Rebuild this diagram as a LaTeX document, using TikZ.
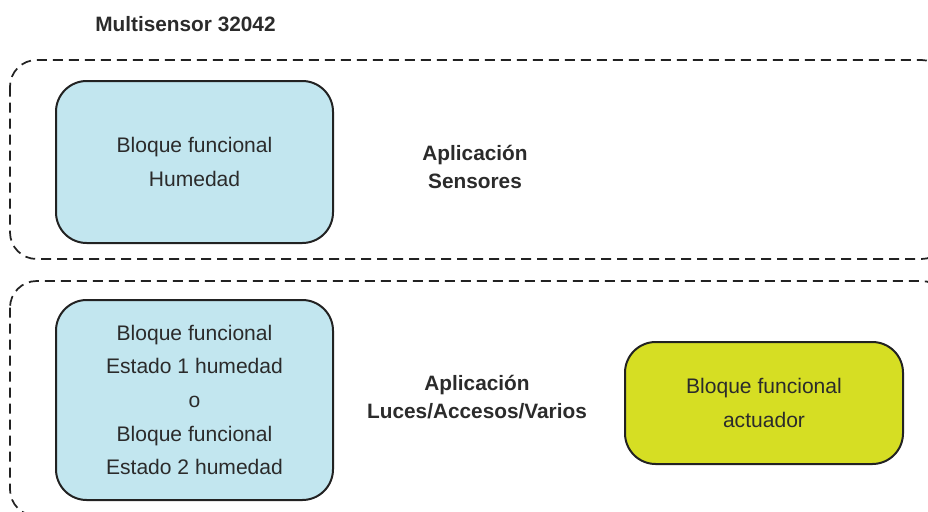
\documentclass[tikz,border=0pt]{standalone}
\usepackage{fontspec}
\setmainfont{Liberation Sans}
\definecolor{boxblue}{HTML}{C2E6EF}
\definecolor{boxyellow}{HTML}{D6DE23}
\definecolor{txt}{HTML}{2B2B2B}
\definecolor{edge}{HTML}{222222}
\begin{document}
\begin{tikzpicture}[x=0.75pt,y=-0.75pt,
  group/.style={draw=edge, line width=1.3pt, dash pattern=on 7.5pt off 4.5pt, rounded corners=20pt},
  fb/.style={draw=edge, line width=1.5pt, rounded corners=23pt, inner sep=0pt, text=txt,
    font=\fontsize{15.8}{25.2}\selectfont, align=center},
  lbl/.style={text=txt, font=\fontsize{15.6}{21}\selectfont\bfseries, align=center, inner sep=0pt}]
\useasboundingbox (0,0) rectangle (928,511);
\begin{scope}
\clip (0,0) rectangle (928,511);
\draw[group] (10,60) rectangle (948,259);
\draw[group] (10,281) rectangle (948,516);
\end{scope}
\node[lbl, anchor=west] (title) at (95,24) {Multisensor 32042};
\node[fb, fill=boxblue, minimum width=277*0.75pt, minimum height=162*0.75pt] (hum) at (194.5,162) {Bloque funcional\\Humedad};
\node[fb, fill=boxblue, minimum width=277*0.75pt, minimum height=200*0.75pt] (est) at (194.5,400) {Bloque funcional\\Estado 1 humedad\\o\\Bloque funcional\\Estado 2 humedad};
\node[fb, fill=boxyellow, minimum width=278*0.75pt, minimum height=122*0.75pt] (act) at (764,403) {Bloque funcional\\actuador};
\node[lbl] (sens) at (475,167) {Aplicación\\Sensores};
\node[lbl] (apl) at (477,397) {Aplicación\\Luces/Accesos/Varios};
\end{tikzpicture}
\end{document}
